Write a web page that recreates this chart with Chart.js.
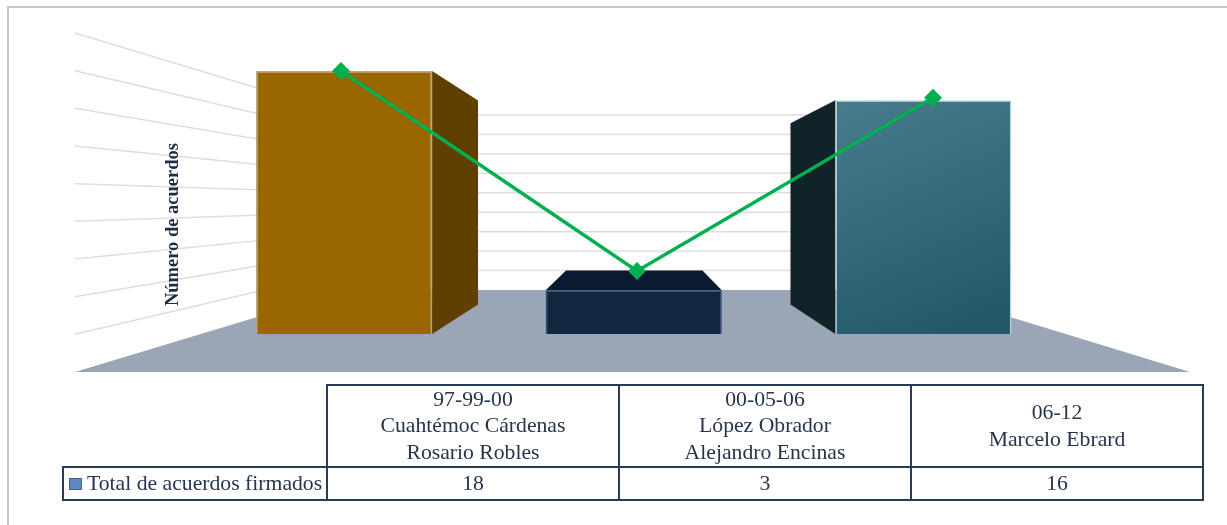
<!DOCTYPE html>
<html>
<head>
<meta charset="utf-8">
<script src="https://cdn.jsdelivr.net/npm/chart.js@4"></script>
<style>
  html, body { margin: 0; padding: 0; background: #fff; }
  #marco { position: relative; width: 1227px; height: 525px; overflow: hidden; }
  #marco canvas { position: absolute; left: 0; top: 0; }
  #borde { position: absolute; left: 7px; top: 6px; width: 1230px; height: 530px; border: 2px solid #c6c6c6; box-sizing: border-box; }
  table { position: absolute; left: 62px; top: 384px; border-collapse: collapse; table-layout: fixed; width: 1142px;
          font-family: "Liberation Serif", serif; font-size: 21.7px; color: #26344e; }
  td { border: 2px solid #263d57; text-align: center; padding: 0; line-height: 27px; }
  td.cabeza { box-sizing: border-box; height: 80px; padding-bottom: 1px; line-height: 26.4px; }
  td.vacio { border: none; }
  td.serie { white-space: nowrap; text-align: left; padding-left: 5px; height: 31px; }
  td.valor { height: 31px; }
  .clave { display: inline-block; width: 13px; height: 12px; box-sizing: border-box; background: #5f88bf; border: 1px solid #3f6496; margin-right: 5px; }
</style>
</head>
<body>
<div id="marco">
  <div id="borde"></div>
  <canvas id="grafica" width="1227" height="525"></canvas>
  <canvas id="linea" width="1227" height="525"></canvas>
  <table id="tabla"></table>
</div>
<script>
const periodos = ["97-99-00", "00-05-06", "06-12"];
const nombres = [["Cuahtémoc Cárdenas", "Rosario Robles"], ["López Obrador", "Alejandro Encinas"], ["Marcelo Ebrard"]];
const acuerdos = [18, 3, 16];
const serie = "Total de acuerdos firmados";
const tituloY = "Número de acuerdos";

// punto de fuga de la perspectiva 3D
const fuga = { x: 636, y: 202.5 };
const fondoBarra = 0.775;  // cara trasera de cada barra
const frenteBarra = 0.776; // plano de las barras respecto al frente del piso
const fondoPiso = 0.516;
const pisoIzq = 75;
const pisoDer = 1190;

function hacia(x, y, f) {
  return { x: fuga.x + (x - fuga.x) * f, y: fuga.y + (y - fuga.y) * f };
}

function poligono(ctx, pts, color) {
  ctx.beginPath();
  pts.forEach((p, i) => i ? ctx.lineTo(p.x, p.y) : ctx.moveTo(p.x, p.y));
  ctx.closePath();
  ctx.fillStyle = color;
  ctx.fill();
}

const coloresLado = ["#604000", "#0c1a30", "#0f2329"];

const escena3d = {
  id: "escena3d",
  beforeDatasetsDraw(chart) {
    const ctx = chart.ctx;
    const y = chart.scales.y;
    const y0 = fuga.y + (y.getPixelForValue(0) - fuga.y) / frenteBarra;
    ctx.save();
    // piso
    poligono(ctx, [
      { x: pisoIzq, y: y0 },
      hacia(pisoIzq, y0, fondoPiso),
      hacia(pisoDer, y0, fondoPiso),
      { x: pisoDer, y: y0 }
    ], "#9aa5b5");
    // lineas de la pared y del fondo, una por cada marca del eje
    ctx.strokeStyle = "#dedede";
    ctx.lineWidth = 1.5;
    y.ticks.forEach(t => {
      if (t.value === 0) return;
      const yp = fuga.y + (y.getPixelForValue(t.value) - fuga.y) / frenteBarra;
      const a = hacia(pisoIzq, yp, fondoPiso);
      const b = hacia(pisoDer, yp, fondoPiso);
      ctx.beginPath();
      ctx.moveTo(pisoIzq, yp);
      ctx.lineTo(a.x, a.y);
      ctx.lineTo(b.x, b.y);
      ctx.stroke();
    });
    // caras laterales de las barras
    chart.getDatasetMeta(0).data.forEach((b, i) => {
      const izq = b.x - b.width / 2, der = b.x + b.width / 2;
      const sup = b.y, inf = b.base;
      const col = coloresLado[i];
      if (i === 0) {
        const p = hacia(der, sup, fondoBarra), q = hacia(der, inf, fondoBarra);
        poligono(ctx, [{ x: der, y: sup }, p, q, { x: der, y: inf }], col);
      } else if (i === 2) {
        const p = hacia(izq, sup, fondoBarra), q = hacia(izq, inf, fondoBarra);
        poligono(ctx, [{ x: izq, y: sup }, p, q, { x: izq, y: inf }], col);
      } else {
        const p = hacia(izq, sup, fondoBarra), q = hacia(der, sup, fondoBarra);
        poligono(ctx, [{ x: izq, y: sup }, p, q, { x: der, y: sup }], col);
      }
    });
    // titulo del eje
    ctx.translate(178, 224.5);
    ctx.rotate(-Math.PI / 2);
    ctx.font = "bold 18.5px 'Liberation Serif', serif";
    ctx.fillStyle = "#1f2d47";
    ctx.textAlign = "center";
    ctx.fillText(tituloY, 0, 0);
    ctx.restore();
  }
};

function rellenoBarra(ctx) {
  if (ctx.dataIndex === 0) return "#996600";
  if (ctx.dataIndex === 1) return "#13263f";
  const chart = ctx.chart;
  const area = chart.chartArea;
  if (!area) return "#2f6675";
  const xc = chart.scales.x.getPixelForValue(ctx.dataIndex);
  const g = chart.ctx.createLinearGradient(xc - 88, chart.scales.y.getPixelForValue(ctx.raw), xc + 10, area.bottom);
  g.addColorStop(0, "#477c8d");
  g.addColorStop(1, "#235a68");
  return g;
}

new Chart(document.getElementById("grafica"), {
  type: "bar",
  data: {
    labels: periodos,
    datasets: [{
      label: serie,
      data: acuerdos,
      backgroundColor: rellenoBarra,
      borderColor: ["#b8a676", "#2f4a73", "#b6d0d8"],
      borderWidth: 1.5,
      barPercentage: 0.608,
      categoryPercentage: 1
    }]
  },
  options: {
    responsive: false,
    animation: false,
    layout: { padding: { left: 199.25, right: 158.75, top: 71, bottom: 191 } },
    plugins: { legend: { display: false }, tooltip: { enabled: false } },
    scales: {
      x: { display: false, offset: true },
      y: { display: false, min: 0, max: 18, ticks: { stepSize: 2 } }
    }
  },
  plugins: [escena3d]
});

// la linea va en otro lienzo porque en el original tiene su propia escala
new Chart(document.getElementById("linea"), {
  type: "line",
  data: {
    labels: periodos,
    datasets: [{
      label: "Tendencia",
      data: acuerdos,
      borderColor: "#00b050",
      borderWidth: 3.5,
      backgroundColor: "#00b050",
      pointStyle: "rectRot",
      pointRadius: 9,
      pointBorderWidth: 0,
      tension: 0,
      clip: false
    }]
  },
  options: {
    responsive: false,
    animation: false,
    layout: { padding: { left: 193, right: 146, top: 71, bottom: 214 } },
    plugins: { legend: { display: false }, tooltip: { enabled: false } },
    scales: {
      x: { display: false, offset: true },
      y: { display: false, min: 0, max: 18 }
    }
  }
});

// tabla de datos bajo la grafica
const tabla = document.getElementById("tabla");
let filaUno = '<tr><td class="vacio" style="width:263px"></td>';
periodos.forEach((p, i) => {
  filaUno += '<td class="cabeza">' + [p].concat(nombres[i]).join("<br>") + "</td>";
});
let filaDos = '<tr><td class="serie"><span class="clave"></span>' + serie + "</td>";
acuerdos.forEach(v => { filaDos += '<td class="valor">' + v + "</td>"; });
tabla.innerHTML = filaUno + "</tr>" + filaDos + "</tr>";
</script>
</body>
</html>
